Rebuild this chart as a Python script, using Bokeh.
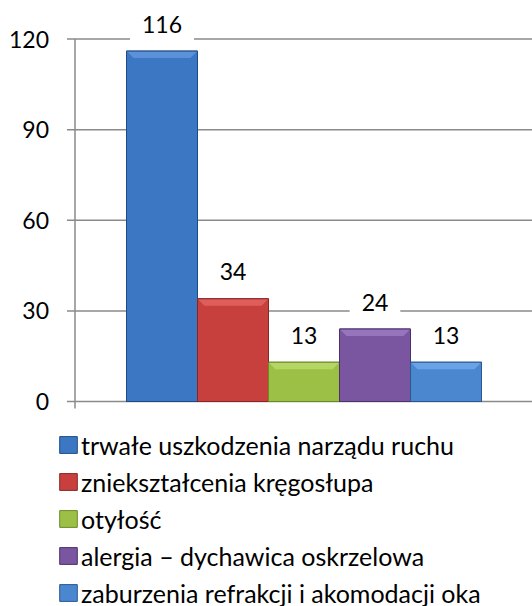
from bokeh.plotting import figure
from bokeh.models import ColumnDataSource, Range1d, Label, Legend, LegendItem
from bokeh.core.properties import value
from bokeh.embed import file_html
from bokeh.resources import INLINE

categories = [
    "trwałe uszkodzenia narządu ruchu",
    "zniekształcenia kręgosłupa",
    "otyłość",
    "alergia – dychawica oskrzelowa",
    "zaburzenia refrakcji i akomodacji oka",
]
values = [116, 34, 13, 24, 13]
y_ticks = [0, 30, 60, 90, 120]
y_tick_labels = ["0", "30", "60", "90", "120"]
fill_colors = ["#3c77c4", "#c8403d", "#9cc045", "#7a56a0", "#4a87cf"]
bevel_colors = ["#5f94dc", "#e0625e", "#b8d868", "#9a79c0", "#6ea5e8"]
edge_colors = ["#1f4b85", "#8a2523", "#6a8a2a", "#4b316c", "#2a5894"]

positions = list(range(len(values)))
src = ColumnDataSource(dict(x=positions, top=values, fill=fill_colors,
                            edge=edge_colors, cat=categories))

FONT = "Lato"
GRAY = "#8a8a8a"
W, H = 532, 606
PX_X = 71.0          # pixels per category slot (bar width)
PX_Y = 3.0208        # pixels per value unit
X0_PX, Y0_PX = 126.0, 401.0   # pixel position of first bar's left edge / value 0
AXIS_PX = 74.5

x_start = -0.5 - X0_PX / PX_X
x_end = x_start + W / PX_X
y_end = Y0_PX / PX_Y
y_start = y_end - H / PX_Y
x_axis = -0.5 - (X0_PX - AXIS_PX) / PX_X
tick_len_x = 8 / PX_X
tick_len_y = 7 / PX_Y

p = figure(width=W, height=H, output_backend="svg", toolbar_location=None,
           x_range=Range1d(x_start, x_end), y_range=Range1d(y_start, y_end),
           min_border=0, x_axis_location=None, y_axis_location=None)
p.outline_line_color = None
p.grid.visible = False

# grid lines (extending left as tick marks)
p.segment(x0=[x_axis - tick_len_x] * len(y_ticks), y0=y_ticks,
          x1=[x_end] * len(y_ticks), y1=y_ticks,
          line_color=GRAY, line_width=1.5)
# vertical axis line
p.segment(x0=[x_axis], y0=[y_ticks[0] - tick_len_y], x1=[x_axis], y1=[y_ticks[-1]],
          line_color=GRAY, line_width=1.5)

# tick labels
p.text(x=[x_axis] * len(y_ticks), y=y_ticks, text=y_tick_labels,
       x_offset=-26, text_align="right", text_baseline="middle",
       text_font=value(FONT), text_font_size="23px", text_color="black")

r = p.vbar(x="x", top="top", bottom=0, width=1, source=src,
           fill_color="fill", line_color="edge", line_width=1)

# bevel highlight on top of each bar
bev_h = 7 / PX_Y
bev_d = 7 / PX_X
bxs = [[x - 0.5, x + 0.5, x + 0.5 - bev_d, x - 0.5 + bev_d] for x in positions]
bys = [[v, v, v - bev_h, v - bev_h] for v in values]
p.patches(xs=bxs, ys=bys, fill_color=bevel_colors, line_color=None, fill_alpha=0.9)
p.vbar(x=positions, top=values, bottom=0, width=1, fill_color=None,
       line_color=edge_colors, line_width=1)

# value labels
for xi, v in zip(positions, values):
    p.add_layout(Label(x=xi, y=v, text=str(v), text_align="center",
                       text_baseline="middle", y_offset=27, text_font=FONT,
                       text_font_size="23px", text_color="black",
                       background_fill_color="white", padding=12))

items = [LegendItem(label=c, renderers=[r], index=i) for i, c in enumerate(categories)]
legend = Legend(items=items, location=(57, -5), orientation="vertical",
                glyph_width=22, glyph_height=21, label_standoff=2,
                label_height=37, spacing=0, padding=0, margin=0,
                border_line_color=None, background_fill_alpha=0,
                label_text_font=FONT, label_text_font_size="25px",
                label_text_color="black")
p.add_layout(legend)

open("out.html", "w").write(file_html(p, INLINE))
